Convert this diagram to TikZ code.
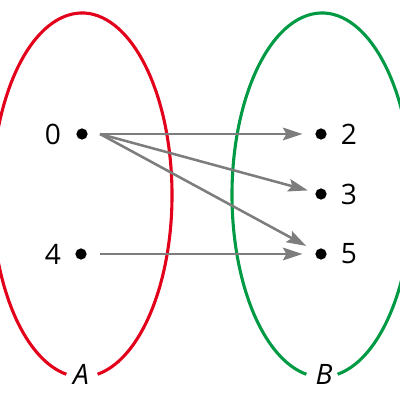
\documentclass[tikz,border=0pt]{standalone}
\usepackage{fontspec}
\setmainfont{Open Sans}
\usetikzlibrary{arrows.meta}
\definecolor{setred}{RGB}{226,0,26}
\definecolor{setgreen}{RGB}{0,154,68}
\definecolor{arrgray}{RGB}{125,125,125}
\tikzset{
    dot/.style={circle,fill=black,inner sep=0pt,minimum size=8pt},
    lbl/.style={inner sep=0pt,font=\fontsize{20}{24}\selectfont},
    arr/.style={draw=arrgray,line width=1.8pt,shorten >=8.9pt,
        -{Stealth[length=14pt,width=9pt,inset=2.5pt]}}
}
\begin{document}
\begin{tikzpicture}[x=0.025cm,y=0.025cm]
        \useasboundingbox (0,0) rectangle (400,400);
        \coordinate (ca) at (82,205);
        \coordinate (cb) at (322,205);
        \draw[setred,line width=2.2pt] (ca) ++(-80:90 and 182) arc[start angle=-80,end angle=260,x radius=90,y radius=182];
        \draw[setgreen,line width=2.2pt] (cb) ++(-80:90 and 182) arc[start angle=-80,end angle=260,x radius=90,y radius=182];
        \node[lbl] (A) at (81,26) {\textit{A}};
        \node[lbl] (B) at (324,26) {\textit{B}};

        \node[dot] (d0) at (82,266) {};
        \node[dot] (d4) at (81,146) {};
        \node[dot] (d2) at (321,266) {};
        \node[dot] (d3) at (321,206) {};
        \node[dot] (d5) at (321,146) {};
        \node[lbl] (zero) at (53,266) {0};
        \node[lbl] (four) at (53,146) {4};
        \node[lbl] (two) at (349,266) {2};
        \node[lbl] (three) at (349,206) {3};
        \node[lbl] (five) at (349,146) {5};
        \coordinate (s0) at (100,266);
        \coordinate (s4) at (100,146);

        \draw[arr] (s0) -- (d2);
        \draw[arr,shorten >=5.5pt] (s0) -- (d3);
        \draw[arr,shorten >=7.8pt] (s0) -- (d5);
        \draw[arr] (s4) -- (d5);

    \end{tikzpicture}
\end{document}
